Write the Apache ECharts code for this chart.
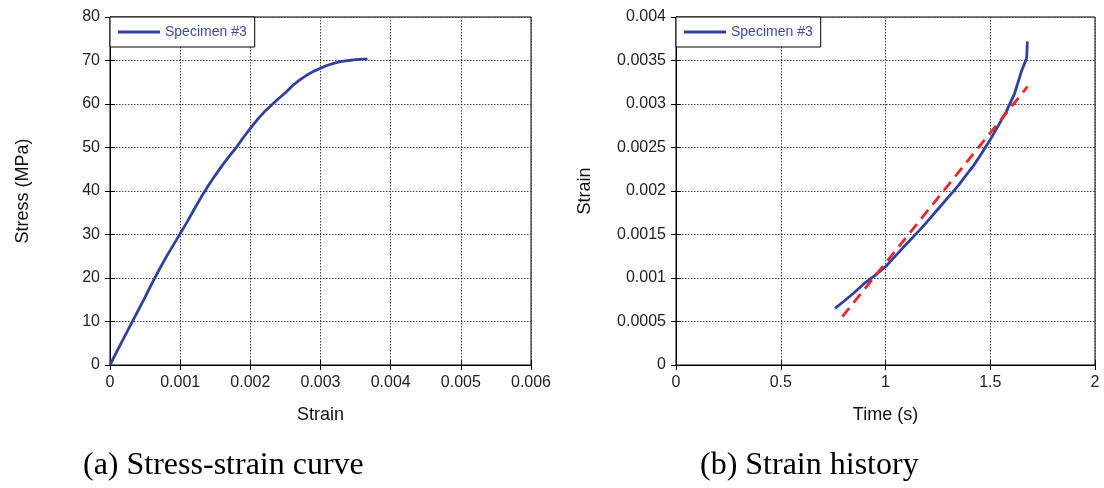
<!DOCTYPE html>
<html><head><meta charset="utf-8">
<script src="https://cdn.jsdelivr.net/npm/echarts@6/dist/echarts.min.js"></script>
<style>html,body{margin:0;padding:0;background:#fff}#c{width:1104px;height:488px}</style>
</head><body><div id="c"></div>
<script>
// (a) stress-strain curve
const strainA = [0,0.0001,0.0002,0.0003,0.0004,0.0005,0.0006,0.0007,0.0008,0.0009,0.001,0.0011,0.0012,0.0013,0.0014,0.0015,0.0016,0.0017,0.0018,0.0019,0.002,0.0021,0.0022,0.0023,0.0024,0.0025,0.0026,0.0027,0.0028,0.0029,0.003,0.0031,0.0032,0.0033,0.0034,0.0035,0.0036,0.00367];
const stressA = [0,3.2,6.3,9.4,12.5,15.6,18.8,21.9,24.8,27.5,30.2,32.9,35.8,38.6,41.2,43.6,45.9,48.0,50.0,52.3,54.4,56.4,58.2,59.7,61.2,62.6,64.2,65.5,66.6,67.5,68.2,68.9,69.4,69.8,70.0,70.2,70.3,70.3];
// (b) strain history
const timeB = [0.759,0.80,0.85,0.90,0.925,0.95,1.00,1.05,1.10,1.163,1.20,1.25,1.30,1.322,1.35,1.40,1.417,1.45,1.50,1.55,1.576,1.616,1.648,1.674,1.677];
const strainB = [0.00065,0.00073,0.00083,0.00094,0.000985,0.00103,0.00113,0.00126,0.00139,0.00155,0.00165,0.00179,0.00193,0.00199,0.00207,0.00223,0.00228,0.00240,0.00259,0.00280,0.00291,0.00312,0.00337,0.00353,0.00372];
const fitTime = [0.794,1.678];
const fitStrain = [0.000555,0.0032];
const legendName = 'Specimen #3';
const xTicksA = [0,0.006,0.001];
const yTicksA = [0,80,10];
const xTicksB = [0,2,0.5];
const yTicksB = [0,0.004,0.0005];

const zip = (a,b)=>a.map((v,i)=>[v,b[i]]);
const blue = '#3040a0', red = '#e8262b';
const tickFont = {fontFamily:'Liberation Sans, Arial', fontSize:16, color:'#222'};
const nameFont = {fontFamily:'Liberation Sans, Arial', fontSize:18, color:'#111'};
const fmt = v => v===0 ? '0' : String(+v.toFixed(4));
function axis(t, gi, name, gap){
  return {type:'value', gridIndex:gi, min:t[0], max:t[1], interval:t[2],
    name:name, nameLocation:'middle', nameGap:gap, nameTextStyle:nameFont,
    axisLine:{show:true,lineStyle:{color:'#000',width:1}},
    axisTick:{show:true,inside:true,length:5,lineStyle:{color:'#000'}},
    axisLabel:Object.assign({formatter:fmt, margin:10}, tickFont),
    splitLine:{show:true,lineStyle:{color:'#444',type:[1.5,1.5],width:1}}};
}
function mirror(t, gi, pos){
  return {type:'value', gridIndex:gi, min:t[0], max:t[1], interval:t[2], position:pos,
    axisLine:{show:true,lineStyle:{color:'#000',width:1}},
    axisTick:{show:true,inside:true,length:5,lineStyle:{color:'#000'}},
    axisLabel:{show:false}, splitLine:{show:false}};
}
function legend(left){
  return {data:[legendName],left:left,top:17,backgroundColor:'#fff',borderColor:'#000',borderWidth:1,padding:[8,8,8,8],
    itemWidth:42,itemHeight:3,textStyle:{fontFamily:'Liberation Sans, Arial',fontSize:14,color:'#3b4aa8'},
    icon:'rect',itemStyle:{color:blue},selectedMode:false};
}
const chart = echarts.init(document.getElementById('c'));
chart.setOption({
  animation:false,
  grid:[
    {left:110,top:17,width:421,height:348,show:true,borderColor:'#000',borderWidth:1,backgroundColor:'#fff'},
    {left:676,top:17,width:419,height:348,show:true,borderColor:'#000',borderWidth:1,backgroundColor:'#fff'}
  ],
  xAxis:[axis(xTicksA,0,'Strain',41), axis(xTicksB,1,'Time (s)',41), mirror(xTicksA,0,'top'), mirror(xTicksB,1,'top')],
  yAxis:[axis(yTicksA,0,'Stress (MPa)',78), axis(yTicksB,1,'Strain',82), mirror(yTicksA,0,'right'), mirror(yTicksB,1,'right')],
  legend:[legend(110), legend(676)],
  graphic:[
    {type:'text',left:83,top:450,style:{text:'(a) Stress-strain curve',font:'32px "Liberation Serif", "Times New Roman", serif',fill:'#000'}},
    {type:'text',left:700,top:450,style:{text:'(b) Strain history',font:'32px "Liberation Serif", "Times New Roman", serif',fill:'#000'}}
  ],
  series:[
    {name:legendName,type:'line',xAxisIndex:0,yAxisIndex:0,data:zip(strainA,stressA),showSymbol:false,symbol:'none',lineStyle:{color:blue,width:2.8},itemStyle:{color:blue}},
    {name:legendName,type:'line',xAxisIndex:1,yAxisIndex:1,data:zip(timeB,strainB),showSymbol:false,symbol:'none',lineStyle:{color:blue,width:2.8},itemStyle:{color:blue},z:3},
    {name:'fit',type:'line',xAxisIndex:1,yAxisIndex:1,data:zip(fitTime,fitStrain),showSymbol:false,symbol:'none',lineStyle:{color:red,width:2.8,type:[11,7]},z:4}
  ]
});
</script></body></html>
